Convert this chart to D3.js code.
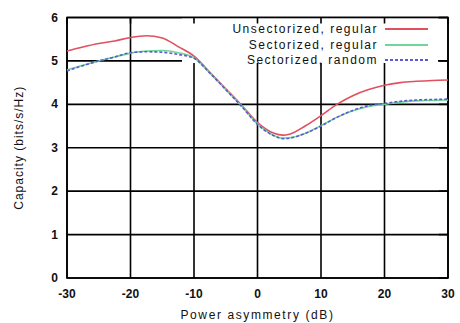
<!DOCTYPE html>
<html>
<head>
<meta charset="utf-8">
<script src="https://cdn.jsdelivr.net/npm/d3@7"></script>
<style>
  body { margin: 0; background: #fff; }
  text { font-family: "Liberation Sans", Arial, sans-serif; fill: #111; }
</style>
</head>
<body>
<script>
const svgWidth = 460;
const svgHeight = 323;

// power asymmetry (dB) sample points, shared by all series
const asym = [-30, -27.5, -25, -22.5, -20, -17.5, -15, -12.5, -10, -7.5, -5, -2.5, 0,
              2.5, 4, 5, 7.5, 10, 12.5, 15, 17.5, 20, 22.5, 25, 27.5, 30];
const unsectRegular = [5.23, 5.32, 5.40, 5.46, 5.54, 5.58, 5.53, 5.33, 5.11, 4.74, 4.36, 3.98, 3.58,
                       3.34, 3.29, 3.31, 3.50, 3.74, 4.00, 4.20, 4.34, 4.44, 4.50, 4.53, 4.55, 4.56];
const sectRegular   = [4.79, 4.90, 5.00, 5.09, 5.18, 5.23, 5.24, 5.19, 5.07, 4.72, 4.34, 3.96, 3.55,
                       3.29, 3.22, 3.23, 3.33, 3.51, 3.70, 3.85, 3.95, 4.00, 4.05, 4.08, 4.09, 4.10];
const sectRandom    = [4.77, 4.89, 5.00, 5.09, 5.19, 5.21, 5.20, 5.15, 5.06, 4.72, 4.34, 3.95, 3.54,
                       3.28, 3.21, 3.22, 3.33, 3.50, 3.70, 3.86, 3.97, 4.02, 4.07, 4.10, 4.11, 4.12];

const seriesNames = ["Unsectorized, regular", "Sectorized, regular", "Sectorized, random"];
const seriesColors = ["#e0505e", "#6fd699", "#5a5ad6"];
const seriesDash = [null, null, "3,2"];
const allSeries = [unsectRegular, sectRegular, sectRandom];

const xTicks = [-30, -20, -10, 0, 10, 20, 30];
const yTicks = [0, 1, 2, 3, 4, 5, 6];

const margin = {left: 67, right: 12, top: 17.5, bottom: 45};

const svg = d3.select("body").append("svg")
            .attr("width", svgWidth)
            .attr("height", svgHeight);

var xScale = d3.scaleLinear().domain([-30, 30]).range([margin.left, svgWidth - margin.right]);
var yScale = d3.scaleLinear().domain([0, 6]).range([svgHeight - margin.bottom, margin.top]);

// key area (grid is hidden behind it)
const key = {x0: 182, x1: 438, y0: margin.top, y1: 63};

//grid
xTicks.forEach(function(t) {
  svg.append("line")
     .attr("x1", xScale(t)).attr("x2", xScale(t))
     .attr("y1", yScale(0)).attr("y2", yScale(6))
     .attr("stroke", "#000").attr("stroke-width", 1.6);
});
yTicks.forEach(function(t) {
  svg.append("line")
     .attr("x1", xScale(-30)).attr("x2", xScale(30))
     .attr("y1", yScale(t)).attr("y2", yScale(t))
     .attr("stroke", "#000").attr("stroke-width", 1.6);
});
svg.append("rect")
   .attr("x", key.x0).attr("y", key.y0)
   .attr("width", key.x1 - key.x0).attr("height", key.y1 - key.y0)
   .attr("fill", "#fff");

// mirror ticks on top and right border
xTicks.forEach(function(t) {
  svg.append("line")
     .attr("x1", xScale(t)).attr("x2", xScale(t))
     .attr("y1", yScale(6)).attr("y2", yScale(6) + 6)
     .attr("stroke", "#000").attr("stroke-width", 1.6);
});
yTicks.forEach(function(t) {
  svg.append("line")
     .attr("x1", xScale(30) - 9).attr("x2", xScale(30))
     .attr("y1", yScale(t)).attr("y2", yScale(t))
     .attr("stroke", "#000").attr("stroke-width", 1.6);
});

//border
svg.append("rect")
   .attr("x", xScale(-30)).attr("y", yScale(6))
   .attr("width", xScale(30) - xScale(-30)).attr("height", yScale(0) - yScale(6))
   .attr("fill", "none").attr("stroke", "#000").attr("stroke-width", 1.6);

//curves
const line = d3.line()
             .curve(d3.curveMonotoneX)
             .x(function(d, i) {return xScale(asym[i]);})
             .y(function(d) {return yScale(d);});

allSeries.forEach(function(s, i) {
  svg.append("path")
     .attr("d", line(s))
     .attr("fill", "none")
     .attr("stroke", seriesColors[i])
     .attr("stroke-width", 1.6)
     .attr("stroke-dasharray", seriesDash[i]);
});

//tick labels
xTicks.forEach(function(t) {
  svg.append("text")
     .attr("x", xScale(t)).attr("y", yScale(0) + 20)
     .attr("text-anchor", "middle")
     .style("font-size", "12px")
     .style("font-weight", "bold")
     .text(t);
});
yTicks.forEach(function(t) {
  svg.append("text")
     .attr("x", xScale(-30) - 9).attr("y", yScale(t) + 4)
     .attr("text-anchor", "end")
     .style("font-size", "12px")
     .style("font-weight", "bold")
     .text(t);
});

//axis titles
svg.append("text")
   .attr("x", (xScale(-30) + xScale(30)) / 2).attr("y", 319)
   .attr("text-anchor", "middle")
   .style("font-size", "12px")
   .style("letter-spacing", "1.6px")
   .text("Power asymmetry (dB)");
svg.append("text")
   .attr("transform", "translate(23," + ((yScale(0) + yScale(6)) / 2) + ") rotate(-90)")
   .attr("text-anchor", "middle")
   .style("font-size", "12px")
   .style("letter-spacing", "1px")
   .text("Capacity (bits/s/Hz)");

//legend
const keyRows = [29, 45, 60];
seriesNames.forEach(function(name, i) {
  svg.append("text")
     .attr("x", 378).attr("y", keyRows[i] + 4)
     .attr("text-anchor", "end")
     .style("font-size", "12px")
     .style("letter-spacing", "1.5px")
     .text(name);
  svg.append("line")
     .attr("x1", 385).attr("x2", 428)
     .attr("y1", keyRows[i]).attr("y2", keyRows[i])
     .attr("stroke", seriesColors[i])
     .attr("stroke-width", 2)
     .attr("stroke-dasharray", seriesDash[i]);
});
</script>
</body>
</html>
